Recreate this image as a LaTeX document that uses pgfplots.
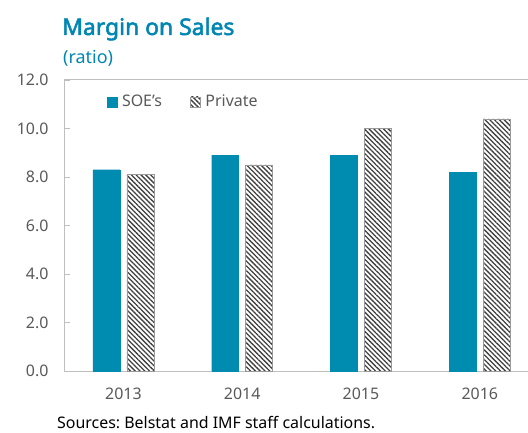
\documentclass[border=0pt]{standalone}
\usepackage{pgfplots}
\pgfplotsset{compat=1.18}
\usetikzlibrary{patterns.meta}
\usepackage{fontspec}
\setmainfont{Noto Sans}
\newfontfamily\titlefont{Noto Sans}[FakeBold=2.2]
\definecolor{soe}{RGB}{0,139,176}
\definecolor{ttl}{RGB}{0,134,178}
\definecolor{axgray}{RGB}{191,191,191}
\definecolor{txtgray}{RGB}{89,89,89}
\frenchspacing
\begin{document}
\begin{tikzpicture}
\begin{axis}[
    scale only axis,
    width=464bp, height=291bp,
    clip=false,
    xmin=-0.5, xmax=3.406,
    ymin=0, ymax=12,
    axis y line*=left, axis x line*=bottom,
    axis line style={axgray, line width=1pt},
    xtick={0,1,2,3},
    xticklabels={2013,2014,2015,2016},
    major x tick style={draw=none},
    extra x ticks={0.5,1.5,2.5},
    extra x tick labels={},
    extra x tick style={tick style={axgray, line width=0.8pt}},
    ytick={0,2,...,12},
    y tick style={axgray, line width=0.8pt},
    tick align=inside,
    major tick length=6bp,
    yticklabel style={/pgf/number format/fixed, /pgf/number format/fixed zerofill, /pgf/number format/precision=1, xshift=-12bp},
    /pgf/number format/assume math mode=true,
    tick label style={font=\fontsize{16}{16}\selectfont, text=txtgray},
    xticklabel style={yshift=-13bp},
    bar width=0.227,
    legend style={draw=none, fill=none, at={(0.085,0.925)}, anchor=west,
        legend columns=2, font=\fontsize{16}{16}\selectfont, text=txtgray,
        /tikz/every odd column/.append style={column sep=3bp},
        /tikz/every even column/.append style={column sep=26bp}},
    legend image code/.code={\draw[#1] (0bp,-5bp) rectangle (10bp,5bp);},
]
\addplot[ybar, bar shift=-0.143, fill=soe, draw=soe] coordinates {(0,8.3) (1,8.9) (2,8.9) (3,8.2)};
\addplot[ybar, bar shift=0.143, pattern={Lines[angle=-45, distance=3.4bp, line width=1.3bp]}, pattern color=black!75, draw=gray!80] coordinates {(0,8.1) (1,8.5) (2,10.0) (3,10.4)};
\legend{SOE's, Private}
\draw[axgray, line width=1pt] (rel axis cs:0,1) -- (rel axis cs:1,1);
\coordinate (bl) at (rel axis cs:0,0);
\coordinate (tr) at (rel axis cs:1,1);
\node[anchor=base west, inner sep=0pt, font=\fontsize{23}{23}\titlefont, text=ttl] at ([shift={(-2bp,45bp)}]rel axis cs:0,1) {Margin on Sales};
\node[anchor=base west, inner sep=0pt, font=\fontsize{18}{18}\selectfont, text=ttl] at ([shift={(-1bp,16bp)}]rel axis cs:0,1) {(ratio)};
\node[anchor=base west, inner sep=0pt, font=\fontsize{16}{16}\selectfont, text=black] at ([shift={(-7bp,-57bp)}]rel axis cs:0,0) {Sources: Belstat and IMF staff calculations.};
\end{axis}
\pgfresetboundingbox
\path ([shift={(-64bp,-62bp)}]bl) rectangle ([shift={(0bp,80bp)}]tr);
\end{tikzpicture}
\end{document}
